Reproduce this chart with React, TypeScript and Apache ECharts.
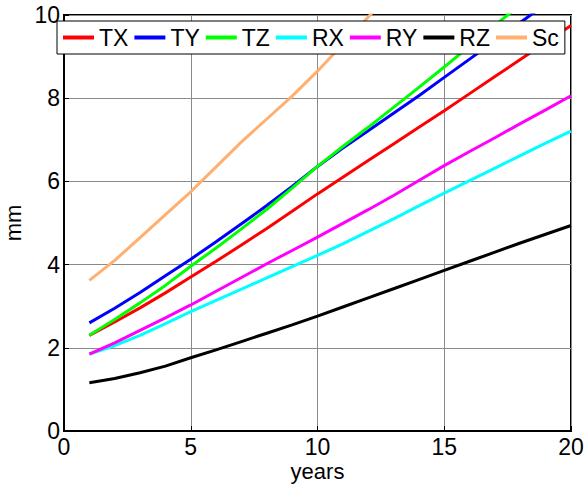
import React, { useEffect, useRef } from "react";
import * as echarts from "echarts";

const years = [1, 2, 3, 4, 5, 6, 7, 8, 9, 10, 11, 12, 13, 14, 15, 16, 17, 18, 19, 20];
const TX = [2.3, 2.62, 2.96, 3.32, 3.7, 4.08, 4.47, 4.87, 5.28, 5.7, 6.1, 6.5, 6.9, 7.3, 7.7, 8.11, 8.52, 8.93, 9.34, 9.75];
const TY = [2.6, 2.95, 3.33, 3.73, 4.13, 4.55, 4.98, 5.42, 5.88, 6.36, 6.8, 7.22, 7.64, 8.06, 8.5, 8.94, 9.38, 9.82, 10.26, 10.7];
const TZ = [2.3, 2.68, 3.08, 3.5, 3.96, 4.4, 4.86, 5.33, 5.84, 6.36, 6.84, 7.3, 7.78, 8.26, 8.75, 9.25, 9.75, 10.25, 10.75, 11.25];
const RX = [1.85, 2.05, 2.3, 2.58, 2.87, 3.14, 3.41, 3.68, 3.95, 4.22, 4.5, 4.8, 5.1, 5.41, 5.72, 6.02, 6.32, 6.62, 6.92, 7.21];
const RY = [1.85, 2.12, 2.42, 2.72, 3.03, 3.36, 3.69, 4.02, 4.34, 4.66, 4.99, 5.32, 5.66, 6.02, 6.38, 6.72, 7.05, 7.39, 7.72, 8.06];
const RZ = [1.16, 1.26, 1.4, 1.56, 1.76, 1.95, 2.15, 2.35, 2.55, 2.76, 2.98, 3.2, 3.42, 3.64, 3.86, 4.08, 4.3, 4.52, 4.73, 4.94];
const Sc = [3.62, 4.1, 4.65, 5.2, 5.75, 6.35, 6.95, 7.5, 8.05, 8.65, 9.3, 9.95, 10.6, 11.25, 11.9, 12.55, 13.2, 13.85, 14.5, 15.15];

const seriesNames = ["TX", "TY", "TZ", "RX", "RY", "RZ", "Sc"];
const seriesData = [TX, TY, TZ, RX, RY, RZ, Sc];
const seriesColors = ["#ff0000", "#0000ff", "#00ff00", "#00ffff", "#ff00ff", "#000000", "#ffb070"];

const xTicks = [0, 5, 10, 15, 20];
const yTicks = [0, 2, 4, 6, 8, 10];

export default function App() {
  const ref = useRef<HTMLDivElement>(null);
  useEffect(() => {
    if (!ref.current) return;
    const chart = echarts.init(ref.current, null, { renderer: "svg" });
    const font = "Liberation Sans, Arial, sans-serif";
    chart.setOption({
      animation: false,
      backgroundColor: "#ffffff",
      grid: {
        left: 64,
        right: 16,
        top: 15,
        bottom: 53,
        containLabel: false,
        outerBoundsMode: "none",
        show: true,
        borderColor: "#000",
        borderWidth: 2,
        backgroundColor: "transparent",
      },
      legend: {
        left: 57,
        top: 21,
        orient: "horizontal",
        backgroundColor: "#ffffff",
        borderColor: "#000",
        borderWidth: 1,
        borderRadius: 0,
        padding: [5, 6, 5, 6],
        itemGap: 6,
        itemWidth: 31,
        itemHeight: 4,
        textStyle: { fontFamily: font, fontSize: 23, color: "#000" },
        data: seriesNames.map((n) => ({ name: n, icon: "rect" })),
      },
      xAxis: {
        type: "value",
        min: 0,
        max: 20,
        interval: 5,
        name: "years",
        nameLocation: "middle",
        nameMoveOverlap: false,
        nameGap: 29,
        nameTextStyle: { fontFamily: font, fontSize: 22, color: "#000", lineHeight: 22 },
        axisLine: { show: true, lineStyle: { color: "#000", width: 2 } },
        axisTick: { show: true, inside: true, length: 5, lineStyle: { color: "#000" } },
        axisLabel: {
          fontFamily: font,
          fontSize: 23,
          color: "#000",
          margin: 4,
          formatter: (v: number) => (xTicks.includes(v) ? String(v) : ""),
        },
        splitLine: { show: true, lineStyle: { color: "#8a8a8a", width: 1 } },
      },
      yAxis: {
        type: "value",
        min: 0,
        max: 10,
        interval: 2,
        name: "mm",
        nameLocation: "middle",
        nameMoveOverlap: false,
        nameGap: 40,
        nameTextStyle: { fontFamily: font, fontSize: 22, color: "#000" },
        axisLine: { show: true, lineStyle: { color: "#000", width: 2 } },
        axisTick: { show: true, inside: true, length: 5, lineStyle: { color: "#000" } },
        axisLabel: {
          fontFamily: font,
          fontSize: 23,
          color: "#000",
          margin: 4,
          formatter: (v: number) => (yTicks.includes(v) ? String(v) : ""),
        },
        splitLine: { show: true, lineStyle: { color: "#8a8a8a", width: 1 } },
      },
      series: seriesNames.map((n, i) => ({
        name: n,
        type: "line",
        data: years.map((y, j) => [y, seriesData[i][j]]),
        symbol: "none",
        showSymbol: false,
        clip: true,
        color: seriesColors[i],
        lineStyle: { color: seriesColors[i], width: 3 },
        itemStyle: { color: seriesColors[i] },
      })),
    });
    return () => chart.dispose();
  }, []);
  return <div ref={ref} style={{ width: 587, height: 484, position: "absolute", left: 0, top: 0 }} />;
}
